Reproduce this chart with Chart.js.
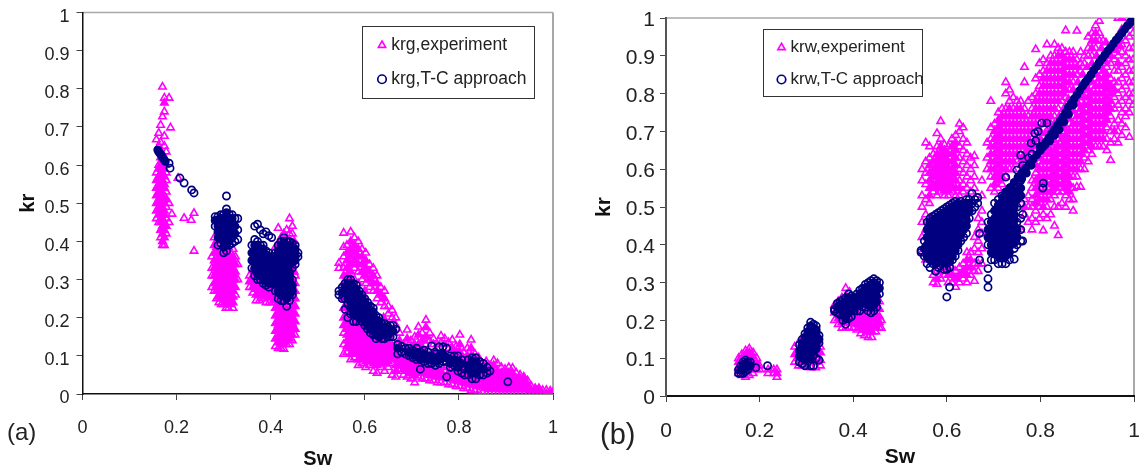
<!DOCTYPE html>
<html>
<head>
<meta charset="utf-8">
<title>krg and krw against Sw</title>
<script src="https://cdn.jsdelivr.net/npm/chart.js@4"></script>
<style>
    html, body { margin: 0; padding: 0; background: #fff; }
    body { position: relative; width: 1143px; height: 472px; overflow: hidden; font-family: "Liberation Sans", Arial, sans-serif; }
    canvas { position: absolute; top: 0; }
    .tag { position: absolute; color: #222; line-height: 1; }
</style>
</head>
<body>
<canvas id="panelA" style="left:0"></canvas>
<canvas id="panelB" style="left:571px"></canvas>
<div class="tag" style="left:7px;top:420px;font-size:24px">(a)</div>
<div class="tag" style="left:600px;top:420px;font-size:29px">(b)</div>
<script>
// Values. Inside the solid clusters single markers
// can't be told apart, so those lists only follow the visible outline of each cluster.
// Each row is [Sw, [kr, kr, ...]].
const swTicks = ['0', '0.2', '0.4', '0.6', '0.8', '1'];
const krTicks = ['0', '0.1', '0.2', '0.3', '0.4', '0.5', '0.6', '0.7', '0.8', '0.9', '1'];

const krgExperiment = [
    [.157,[.46,.48,.50,.52,.54,.56,.58,.667]], [.162,[.45,.47,.49,.51,.53,.55,.57,.59,.60,.65,.684]],
    [.166,[.41,.43,.45,.46,.48,.50,.52,.53,.55,.57,.58,.60,.62,.66,.705]],
    [.17,[.39,.40,.42,.44,.46,.47,.49,.51,.52,.54,.56,.58,.59,.61,.63,.727,.805]],
    [.174,[.39,.41,.43,.45,.47,.48,.50,.52,.54,.55,.57,.59,.60,.65,.676,.74,.763,.776]],
    [.178,[.42,.44,.46,.49,.51,.53,.56,.58,.635]], [.184,[.45,.50,.776]], [.187,[.698]],
    [.19,[.472]], [.203,[.566]], [.216,[.461]], [.231,[.456]], [.237,[.375,.474]],
    [.275,[.28,.31,.33,.36]], [.28,[.27,.29,.31,.33,.35,.37,.39,.41]],
    [.285,[.25,.27,.285,.30,.32,.335,.35,.37,.385,.40]], [.29,[.24,.255,.27,.285,.30,.315,.33,.345,.36,.375,.39]],
    [.295,[.235,.25,.265,.28,.295,.31,.325,.34,.355,.37,.385]], [.30,[.235,.25,.262,.275,.29,.305,.32,.335,.35,.365,.38]],
    [.305,[.225,.24,.255,.27,.285,.30,.315,.33,.345,.36,.375]], [.31,[.225,.24,.25,.265,.28,.295,.31,.325,.34,.355,.37,.385]],
    [.315,[.235,.25,.265,.28,.295,.31,.325,.34,.355,.37]], [.32,[.225,.24,.255,.27,.285,.30,.315,.33,.345,.36,.38]],
    [.325,[.26,.28,.30,.32,.34,.36]], [.33,[.30,.34]],
    [.355,[.28,.295,.31]], [.362,[.265,.28,.295,.31,.325]], [.369,[.245,.26,.275,.29,.305,.32]],
    [.376,[.245,.26,.275,.29,.305]], [.383,[.25,.265,.28,.295]], [.39,[.24,.255,.27,.285]],
    [.397,[.24,.255,.27,.285,.30]], [.404,[.24,.255,.27,.285,.30,.32,.34]],
    [.41,[.125,.145,.165,.185,.205,.225,.245,.265,.285,.305,.325,.345,.365,.385]],
    [.416,[.12,.135,.15,.165,.18,.195,.21,.225,.24,.255,.27,.29,.31,.33,.35,.37,.39,.435]],
    [.422,[.12,.13,.145,.16,.175,.19,.205,.22,.235,.25,.27,.30,.38,.41]],
    [.428,[.118,.135,.15,.165,.18,.195,.21,.225,.24,.39,.42]],
    [.434,[.13,.145,.16,.175,.19,.205,.22,.235,.41,.43]],
    [.44,[.13,.145,.16,.175,.19,.205,.22,.235,.42,.46]],
    [.446,[.14,.155,.17,.185,.20,.215,.23,.25,.265,.28,.30,.32,.34,.42,.44]],
    [.452,[.155,.17,.19,.21,.23,.25,.27,.29,.31]],
    [.555,[.105,.13,.16,.18,.20,.225,.25,.27,.29,.31,.33,.36,.385,.422]], [.545,[.33,.343]],
    [.562,[.11,.125,.14,.155,.17,.19,.21,.23,.25,.27,.29,.31,.33,.35,.37,.39]],
    [.57,[.09,.105,.12,.135,.15,.165,.18,.20,.22,.24,.26,.28,.30,.32,.34,.36,.38,.40,.425]],
    [.578,[.095,.11,.125,.14,.155,.17,.185,.20,.22,.24,.27,.30,.33,.35,.37,.39,.41]],
    [.586,[.075,.09,.105,.12,.135,.15,.165,.18,.195,.21,.25,.29,.32,.34,.36,.38,.40]],
    [.594,[.08,.095,.11,.125,.14,.155,.17,.185,.20,.30,.32,.34,.36,.38]],
    [.602,[.07,.085,.10,.115,.13,.145,.16,.175,.19,.29,.31,.33,.35,.37]],
    [.61,[.075,.09,.105,.12,.135,.15,.165,.28,.30,.32,.34]], [.618,[.06,.08,.095,.11,.125,.14,.155,.27,.29,.31,.33]],
    [.626,[.055,.075,.09,.105,.12,.135,.15,.25,.27,.29,.31]], [.634,[.07,.085,.10,.115,.13,.145,.24,.26,.28]],
    [.642,[.06,.08,.095,.11,.125,.14,.23,.25,.27]], [.65,[.07,.085,.10,.115,.13,.145,.21,.23]],
    [.658,[.05,.08,.095,.11,.125,.14,.20,.22]], [.666,[.045,.06,.075,.09,.105,.12,.18,.20]],
    [.674,[.06,.075,.09,.105,.12,.14,.16]], [.682,[.05,.065,.08,.095,.11,.13]],
    [.69,[.045,.06,.075,.09,.105,.12,.145,.168]], [.698,[.04,.055,.07,.085,.10,.115,.14]],
    [.706,[.03,.05,.065,.08,.095,.11,.13,.15]], [.714,[.045,.06,.075,.09,.105,.13,.155,.176]],
    [.722,[.04,.055,.07,.085,.10,.12,.14,.16]], [.73,[.04,.055,.07,.085,.10,.13,.15,.175,.194]],
    [.738,[.035,.05,.065,.08,.10,.14,.16]], [.746,[.035,.05,.065,.08,.13,.145]], [.754,[.03,.045,.06,.075,.13]],
    [.762,[.03,.045,.06,.075,.135,.152]], [.77,[.03,.045,.06,.13,.145]], [.778,[.025,.04,.055,.07,.12,.135]],
    [.786,[.025,.04,.055,.07,.105,.12,.142]], [.794,[.02,.035,.05,.065,.09,.11,.125]],
    [.802,[.02,.035,.05,.065,.09,.11,.13,.155]], [.81,[.015,.03,.045,.06,.09,.11]], [.818,[.015,.03,.045,.06,.08,.10,.12]],
    [.826,[.01,.025,.04,.055,.08,.10,.12,.142]], [.834,[.01,.025,.04,.055,.07,.09,.105]],
    [.842,[.005,.02,.035,.05,.065,.08,.095]], [.85,[.005,.02,.035,.05,.065,.08]], [.858,[0,.015,.03,.045,.06,.075,.085]],
    [.866,[0,.015,.03,.045,.06,.075]], [.874,[0,.015,.03,.045,.06,.075,.088]], [.882,[0,.015,.03,.045,.06,.08]],
    [.89,[0,.012,.025,.04,.055,.07]], [.898,[0,.012,.025,.04,.055,.065]], [.906,[0,.012,.025,.04,.055,.07]],
    [.914,[0,.012,.025,.04,.055,.068]], [.922,[0,.012,.025,.04,.055]], [.93,[0,.012,.025,.04,.05]],
    [.938,[0,.012,.025,.04,.045]], [.946,[0,.012,.025,.035]], [.954,[0,.01,.02]], [.962,[0,.01,.015]],
    [.97,[0,.01,.015]], [.978,[0,.01]], [.986,[0,.01]], [.994,[0,.008]], [1,[0,.005]]
];

// experiment markers packed in behind the model clusters
const krgExperimentFill = [
    [.407,[.25,.27,.29,.31,.33,.35]], [.437,[.25,.27,.29,.31]], [.45,[.32,.36,.40]],
    [.60,[.21,.25,.27]], [.64,[.16,.18,.20]], [.70,[.125]], [.75,[.10,.115]], [.80,[.075]]
];

const krgModel = [
    [.184,[.605]], [.186,[.592]], [.207,[.566]], [.216,[.553]], [.232,[.535]], [.237,[.527]],
    [.282,[.44,.455,.465]], [.288,[.39,.41,.425,.44,.455,.465]], [.294,[.395,.41,.42,.43,.44,.45,.46,.47]],
    [.30,[.37,.385,.40,.41,.42,.43,.44,.45,.46,.47]], [.306,[.375,.39,.405,.415,.425,.435,.445,.455,.465,.475,.485,.519]],
    [.312,[.39,.40,.41,.42,.43,.44,.45,.46,.47]], [.318,[.395,.41,.42,.43,.44,.45,.46,.47]],
    [.324,[.40,.42,.44,.46]], [.33,[.405,.43,.46]],
    [.36,[.33,.35,.37,.39]], [.366,[.31,.33,.345,.36,.375,.39,.405,.44]], [.372,[.30,.315,.33,.34,.35,.36,.37,.38,.39,.40,.445]],
    [.378,[.30,.31,.32,.33,.34,.35,.36,.37,.38,.39,.43]], [.384,[.29,.30,.31,.32,.33,.34,.35,.36,.37,.38,.39,.42]],
    [.39,[.285,.295,.305,.315,.325,.335,.345,.355,.365,.375,.425]], [.396,[.28,.29,.30,.31,.32,.33,.34,.35,.36,.37,.415]],
    [.402,[.29,.30,.315,.33,.345,.36,.41]], [.407,[.30,.32,.34,.36]], [.41,[.27,.29,.31,.33,.35,.37]],
    [.416,[.25,.27,.285,.30,.315,.33,.345,.36,.375,.39]], [.422,[.245,.26,.275,.29,.30,.31,.32,.33,.34,.35,.36,.37,.38,.39,.40]],
    [.428,[.245,.26,.27,.28,.29,.30,.31,.32,.33,.34,.35,.36,.37,.38,.39,.40,.41]],
    [.434,[.23,.25,.26,.27,.28,.29,.30,.31,.32,.33,.34,.35,.36,.37,.38,.39,.40]],
    [.44,[.245,.26,.27,.28,.29,.30,.31,.32,.34,.35,.36,.37,.38,.39,.40]],
    [.446,[.26,.27,.285,.30,.33,.345,.355,.365,.375,.385,.395]], [.452,[.34,.35,.36,.37,.38,.39]], [.458,[.36,.37]],
    [.545,[.26,.27]], [.552,[.25,.265,.28]], [.558,[.222,.25,.265,.28,.29]], [.564,[.20,.235,.25,.26,.27,.28,.29,.30]],
    [.57,[.21,.225,.24,.25,.26,.27,.28,.29,.30]], [.576,[.19,.21,.22,.23,.24,.25,.26,.27,.28,.29]],
    [.582,[.19,.205,.215,.225,.235,.245,.255,.265,.275,.285]], [.588,[.20,.21,.22,.23,.24,.25,.26,.27]],
    [.594,[.19,.20,.21,.22,.23,.24,.25,.26]], [.60,[.18,.19,.20,.21,.22,.23,.24,.25]],
    [.606,[.17,.18,.19,.20,.21,.22,.23,.24]], [.612,[.16,.17,.18,.19,.20,.21,.22,.23]],
    [.618,[.155,.165,.175,.185,.195,.205,.215,.225]], [.624,[.145,.155,.165,.175,.185,.195,.205]],
    [.63,[.15,.16,.17,.18,.19,.20]], [.636,[.145,.155,.165,.175,.185]], [.642,[.145,.155,.165,.175,.185]],
    [.648,[.15,.16,.17,.18]], [.654,[.15,.16,.17,.18]], [.66,[.15,.165,.18]], [.666,[.17]],
    [.67,[.105,.12,.13]], [.678,[.11,.125]], [.686,[.105,.12]], [.694,[.10,.11,.12]], [.702,[.095,.105,.115]],
    [.71,[.09,.10,.11,.12]], [.718,[.065,.09,.10,.11]], [.726,[.085,.095,.105,.115]], [.734,[.08,.09,.10,.11]],
    [.742,[.08,.09,.10,.126]], [.75,[.075,.085,.095,.105]], [.758,[.08,.09,.10,.124]], [.766,[.085,.095,.105,.124]],
    [.774,[.045,.085,.095,.12]], [.782,[.07,.08,.09,.10]], [.79,[.075,.09,.10]], [.798,[.06,.07,.085,.10]],
    [.806,[.055,.08,.09]], [.812,[.05,.065]], [.82,[.05,.065,.075,.09]], [.828,[.04,.055,.065,.075,.085,.095]],
    [.836,[.04,.055,.07,.085,.095]], [.844,[.05,.07,.085]], [.852,[.05,.065,.08]], [.86,[.055,.07]], [.866,[.06]], [.904,[.032]]
];

// the tight run of model points at low Sw
const krgModelLine = [
    [.16,[.64]], [.162,[.635]], [.165,[.63]], [.168,[.625]], [.17,[.62]], [.173,[.615]], [.176,[.61]]
];

const krwExperiment = [
    [.155,[.06,.075,.09,.10]], [.162,[.055,.07,.085,.10,.11]], [.17,[.05,.065,.08,.095,.11,.12]],
    [.178,[.055,.07,.085,.10,.115,.125]], [.186,[.06,.075,.09,.105,.115]], [.194,[.07,.085,.10]], [.20,[.07,.08]],
    [.218,[.06,.07]], [.23,[.06,.07]], [.237,[.05,.06,.07]],
    [.275,[.09,.11,.13]], [.283,[.08,.10,.12,.14]], [.291,[.08,.095,.11,.13,.15]], [.30,[.08,.095,.11,.13,.15]],
    [.31,[.075,.09,.11,.13]], [.32,[.075,.09,.11,.13]], [.33,[.08,.095,.115,.13]],
    [.36,[.20,.22,.24]], [.368,[.19,.205,.22,.24,.25]], [.376,[.18,.195,.21,.225,.24,.26]],
    [.384,[.18,.195,.21,.225,.24,.26,.285]], [.392,[.18,.195,.21,.225,.24,.26,.275]], [.40,[.18,.195,.21,.225,.24]],
    [.408,[.175,.19,.205,.22,.235]], [.416,[.165,.18,.195,.21,.225]], [.424,[.16,.175,.19,.205,.22]],
    [.432,[.155,.17,.185,.20,.215]], [.44,[.155,.17,.185,.20,.215]], [.448,[.17,.185,.20,.215,.23]],
    [.456,[.18,.195,.21,.23,.25]], [.46,[.18,.20]],
    [.547,[.38,.42,.46,.50,.53,.57,.60]], [.555,[.36,.40,.44,.48,.52,.56,.59,.62,.67]],
    [.563,[.39,.43,.47,.51,.53,.55,.57,.59,.61,.63,.66]], [.571,[.30,.32,.36,.54,.56,.58,.60,.62,.64]],
    [.579,[.296,.31,.33,.53,.55,.565,.58,.595,.61,.625,.64,.66,.695]],
    [.587,[.31,.33,.54,.555,.57,.585,.60,.615,.63,.645,.66,.68,.727]],
    [.595,[.32,.34,.53,.545,.56,.575,.59,.605,.62,.635,.65,.665]], [.603,[.30,.32,.34,.53,.545,.56,.575,.59,.605,.62,.64,.66]],
    [.611,[.30,.32,.34,.54,.555,.57,.585,.60,.62,.64,.66,.68]], [.619,[.288,.31,.33,.53,.55,.57,.59,.61,.63,.65,.67,.69]],
    [.627,[.30,.32,.34,.53,.55,.57,.60,.63,.66,.70,.72]], [.635,[.31,.33,.35,.54,.56,.59,.62,.65,.68,.71]],
    [.643,[.30,.32,.34,.36,.38,.55,.58,.61,.64,.67]], [.651,[.32,.34,.36,.38,.54,.57,.60,.63]],
    [.659,[.304,.33,.35,.39,.42,.55,.58,.61,.635]], [.667,[.33,.35,.38,.41,.44,.47]], [.675,[.35,.39,.43,.46,.49,.53,.57]],
    [.686,[.60,.63,.67]], [.694,[.55,.58,.60,.62,.64,.66,.68,.71,.78]], [.702,[.54,.56,.58,.60,.62,.64,.66,.68,.70,.72]],
    [.71,[.55,.57,.59,.61,.63,.65,.67,.69,.71,.73,.75]], [.718,[.56,.58,.60,.62,.64,.66,.68,.70,.72,.74,.76]],
    [.726,[.58,.60,.62,.64,.66,.68,.70,.72,.74,.76,.80,.83]], [.734,[.60,.62,.64,.66,.68,.70,.72,.74,.76,.78,.81]],
    [.742,[.60,.62,.64,.66,.68,.70,.72,.74,.76,.79]], [.75,[.62,.64,.66,.68,.70,.72,.74,.76,.78]],
    [.758,[.44,.64,.66,.68,.70,.72,.74,.76,.78]], [.766,[.48,.50,.52,.64,.66,.68,.70,.72,.74,.76,.83,.87]],
    [.774,[.46,.50,.53,.66,.68,.70,.72,.74,.78]], [.782,[.44,.47,.50,.52,.55,.57,.68,.70,.72,.74,.76,.79]],
    [.79,[.46,.49,.51,.53,.55,.57,.59,.70,.72,.74,.76,.78,.80,.84,.917]],
    [.798,[.47,.50,.52,.54,.56,.58,.60,.62,.72,.74,.76,.78,.80,.82,.85,.88]],
    [.806,[.438,.48,.50,.52,.54,.56,.58,.60,.62,.64,.72,.74,.76,.78,.80,.82,.84,.86,.89]],
    [.814,[.47,.50,.52,.54,.56,.58,.60,.62,.64,.70,.72,.74,.76,.78,.80,.82,.84,.86,.88,.93]],
    [.822,[.48,.52,.54,.56,.58,.60,.62,.64,.66,.72,.74,.76,.78,.80,.82,.84,.86,.88,.90]],
    [.83,[.45,.50,.53,.55,.57,.59,.61,.63,.65,.67,.74,.76,.78,.80,.82,.84,.86,.88,.90,.93]],
    [.838,[.425,.50,.54,.56,.58,.60,.62,.64,.66,.68,.76,.78,.80,.82,.84,.86,.88,.90,.92]],
    [.846,[.51,.54,.56,.58,.60,.62,.64,.66,.68,.70,.78,.80,.82,.84,.86,.88,.90,.92]],
    [.854,[.50,.53,.55,.57,.59,.61,.63,.65,.67,.69,.71,.79,.81,.83,.85,.87,.89,.91,.967]],
    [.862,[.52,.54,.56,.58,.60,.62,.64,.66,.68,.70,.72,.81,.83,.85,.87,.89,.91]],
    [.87,[.49,.52,.55,.58,.60,.62,.64,.66,.68,.70,.72,.74,.83,.85,.87,.89,.91]],
    [.878,[.553,.58,.60,.62,.64,.66,.68,.70,.72,.74,.76,.85,.87,.89,.966]],
    [.886,[.553,.60,.62,.64,.66,.68,.70,.72,.74,.76,.78,.86,.88,.91]], [.894,[.60,.63,.65,.67,.69,.71,.73,.75,.77,.79,.88,.90]],
    [.902,[.62,.65,.67,.69,.71,.73,.75,.77,.79,.81,.90,.92,.95]], [.91,[.64,.66,.68,.70,.72,.74,.76,.78,.80,.82,.90,.92,.94,.96]],
    [.918,[.66,.68,.70,.72,.74,.76,.78,.80,.82,.84,.92,.94,.96,.98]], [.926,[.66,.68,.70,.72,.74,.76,.78,.80,.82,.84,.86,.94,.96,.992]],
    [.934,[.66,.68,.70,.72,.74,.76,.78,.80,.82,.84,.86,.88,.94]], [.942,[.65,.68,.71,.73,.75,.77,.79,.81,.83,.85,.87]],
    [.95,[.624,.67,.70,.74,.76,.78,.80,.82,.84,.88,.90]], [.958,[.68,.70,.72,.76,.79,.81,.83,.86,.89,.92]],
    [.966,[.67,.70,.73,.77,.80,.83,.86,.88,.90,.94,1]], [.974,[.69,.72,.75,.78,.81,.84,.87,.91,.93,.97,1]],
    [.982,[.71,.74,.76,.79,.82,.85,.88,.90,.94,1]], [.99,[.685,.75,.78,.80,.83,.86,.89,.92,.95,.98]],
    [.998,[.77,.80,.83,.86,.89,.92,.96]]
];

// experiment markers packed in behind the thick model run
const krwExperimentFill = [
    [.76,[.61,.625]], [.77,[.63,.645]], [.78,[.65,.665]], [.79,[.61,.63,.66,.68]], [.80,[.63,.68,.70]], [.81,[.645,.695]],
    [.82,[.655,.70]], [.83,[.675,.72]], [.84,[.69,.74]], [.85,[.71,.76]], [.86,[.735,.785]], [.87,[.755,.81]],
    [.88,[.775,.83]], [.89,[.79,.85]], [.90,[.81,.87]], [.91,[.83,.88]], [.92,[.85,.90]], [.93,[.87,.92]],
    [.94,[.885,.935]], [.95,[.90]], [.96,[.915]], [.97,[.925]]
];

const krwModel = [
    [.155,[.06,.07]], [.16,[.06,.07,.08]], [.165,[.06,.07,.08,.09]], [.17,[.065,.075,.085,.095]], [.175,[.07,.08,.09]],
    [.18,[.08,.09]], [.192,[.075]], [.217,[.08]],
    [.285,[.09,.105,.12,.135]], [.291,[.085,.10,.11,.12,.13,.14,.15]], [.297,[.08,.095,.105,.115,.125,.135,.145,.155,.165]],
    [.303,[.10,.11,.12,.13,.14,.15,.16,.17,.18]], [.309,[.08,.10,.115,.125,.135,.145,.155,.165,.175,.185,.195]],
    [.315,[.08,.11,.12,.13,.14,.15,.16,.17,.18,.19]], [.321,[.10,.125,.135,.145,.155,.165,.175,.185]], [.327,[.095,.14,.15,.16]],
    [.36,[.225,.23]], [.366,[.22,.235,.245]], [.372,[.215,.23,.24,.25]], [.378,[.20,.215,.225,.235,.245,.255]],
    [.384,[.19,.205,.22,.23,.24,.25,.26]], [.39,[.205,.22,.23,.24,.25,.26,.27]], [.396,[.21,.225,.235,.245,.255,.265]],
    [.402,[.225,.235,.245,.255,.26]], [.408,[.225,.24,.25,.26,.27]], [.414,[.225,.24,.25,.26,.27,.28]],
    [.42,[.235,.245,.255,.265,.275,.285]], [.426,[.235,.245,.255,.265,.275,.285,.295]], [.432,[.225,.24,.25,.26,.27,.28,.29,.30]],
    [.438,[.22,.235,.245,.255,.265,.275,.285,.295,.305]], [.444,[.225,.24,.25,.26,.27,.28,.29,.30,.31]],
    [.45,[.235,.25,.265,.28,.295,.305]], [.456,[.27,.285,.30]],
    [.545,[.38,.385]], [.552,[.37,.39,.41]], [.558,[.35,.37,.385,.40,.42,.44,.46]], [.564,[.34,.36,.375,.39,.40,.41,.42,.43,.44,.45,.46,.47]],
    [.57,[.35,.365,.375,.385,.395,.405,.415,.425,.435,.445,.455,.465,.475]], [.576,[.33,.35,.36,.37,.38,.39,.40,.41,.42,.43,.44,.45,.46,.47,.48]],
    [.582,[.34,.355,.365,.375,.385,.395,.405,.415,.425,.435,.445,.455,.465,.475,.485]],
    [.588,[.35,.36,.37,.38,.39,.40,.41,.42,.43,.44,.45,.46,.47,.48,.49]],
    [.594,[.335,.355,.365,.375,.385,.395,.405,.415,.425,.435,.445,.455,.465,.475,.485,.495]],
    [.60,[.262,.335,.35,.36,.37,.38,.39,.40,.41,.42,.43,.44,.45,.46,.47,.48,.49,.50]],
    [.606,[.288,.34,.355,.365,.375,.385,.395,.405,.415,.425,.435,.445,.455,.465,.475,.485,.495,.505]],
    [.612,[.36,.37,.38,.39,.40,.41,.42,.43,.44,.45,.46,.47,.48,.49,.50,.51]],
    [.618,[.37,.385,.395,.405,.415,.425,.435,.445,.455,.465,.475,.485,.495,.505,.515]],
    [.624,[.385,.40,.41,.42,.43,.44,.45,.46,.47,.48,.49,.50,.51]], [.63,[.41,.425,.435,.445,.455,.465,.475,.485,.495,.505,.515]],
    [.636,[.42,.44,.45,.46,.47,.48,.49,.50,.51]], [.642,[.43,.45,.465,.48,.495,.51,.52]], [.648,[.47,.49,.51,.52]],
    [.654,[.49,.51,.536]], [.66,[.50,.52]], [.666,[.51,.525]], [.67,[.36,.43]],
    [.688,[.288,.31,.337,.40,.42,.44,.46]], [.695,[.36,.38,.40,.42,.44,.46,.48]], [.702,[.36,.38,.39,.41,.43,.45,.47,.49,.51]],
    [.71,[.35,.37,.385,.40,.415,.43,.445,.46,.475,.49,.505,.52]], [.718,[.35,.365,.38,.395,.41,.425,.44,.455,.47,.485,.50,.515,.53]],
    [.726,[.35,.37,.385,.40,.415,.43,.445,.46,.475,.49,.505,.52,.54,.579]], [.734,[.36,.38,.395,.41,.425,.44,.455,.47,.485,.50,.515,.53,.55]],
    [.744,[.362,.39,.405,.42,.435,.45,.465,.48,.50,.52,.54,.56]], [.75,[.40,.42,.44,.46,.50,.52,.54,.56,.598]],
    [.758,[.41,.44,.47,.51,.53,.55,.57,.637]], [.762,[.41,.48,.61]], [.775,[.63]],
    [.78,[.669]], [.782,[.64]], [.788,[.695]], [.79,[.675]], [.795,[.70]], [.803,[.722]], [.805,[.55]], [.806,[.563]], [.814,[.722]]
];

// the thick diagonal run of model points
const krwModelLine = [
    [.72,[.526]], [.728,[.54]], [.736,[.552]], [.744,[.565]], [.752,[.578]], [.76,[.575,.59]], [.768,[.602]], [.77,[.59]], [.776,[.614]],
    [.78,[.61]], [.784,[.626]], [.792,[.638]], [.80,[.65,.66]], [.806,[.66]], [.81,[.665]], [.812,[.672]], [.818,[.683]], [.82,[.675]],
    [.824,[.694]], [.83,[.69,.705]], [.836,[.716]], [.84,[.705]], [.842,[.727]], [.848,[.738]], [.85,[.725]], [.854,[.75]],
    [.86,[.745,.765]], [.866,[.775]], [.87,[.77]], [.872,[.786]], [.878,[.797]], [.884,[.808]], [.89,[.82]], [.896,[.83]], [.902,[.84]],
    [.908,[.85]], [.914,[.862]], [.92,[.872]], [.926,[.883]], [.932,[.893]], [.938,[.903]], [.944,[.913]], [.95,[.922]], [.956,[.932]],
    [.962,[.942]], [.968,[.951]], [.974,[.96]], [.98,[.97]], [.986,[.98]], [.992,[.988]], [.996,[.995]]
];

// a marker with close neighbours above and below sits inside a solid cluster
const closeGap = 0.026;
const toPoints = rows => rows.flatMap(([x, ys]) => ys.map((y, i) => ({
    x, y,
    solid: i > 0 && i < ys.length - 1 && y - ys[i - 1] <= closeGap && ys[i + 1] - y <= closeGap
})));
const toSolidPoints = rows => rows.flatMap(([x, ys]) => ys.map(y => ({ x, y, solid: true })));

const magenta = '#ff00ff';
const navy = '#000080';
const fillIfSolid = color => ctx => (ctx.raw && ctx.raw.solid ? color : 'transparent');

// top and right edges of the plot are grey, the axes themselves are dark
const frameAndLegend = {
    id: 'frameAndLegend',
    afterLayout(chart) {
        const box = chart.options.plugins.frameAndLegend;
        chart.legend.left = box.x + 3;
        chart.legend.top = box.y + box.legendDrop;
    },
    beforeDraw(chart) {
        const { ctx, chartArea: a } = chart;
        const box = chart.options.plugins.frameAndLegend;
        ctx.save();
        ctx.strokeStyle = '#a8a8a8';
        ctx.lineWidth = 1.5;
        ctx.beginPath();
        ctx.moveTo(a.left, a.top);
        ctx.lineTo(a.right, a.top);
        ctx.stroke();
        ctx.lineWidth = 2;
        ctx.beginPath();
        ctx.moveTo(a.right, a.top);
        ctx.lineTo(a.right, a.bottom);
        ctx.stroke();
        ctx.strokeStyle = '#333';
        ctx.lineWidth = 1;
        ctx.strokeRect(box.x + 0.5, box.y + 0.5, box.w, box.h);
        ctx.restore();
    }
};

function makePanel(id, p) {
    const canvas = document.getElementById(id);
    canvas.width = p.width;
    canvas.height = 472;
    canvas.style.width = p.width + 'px';
    canvas.style.height = '472px';
    return new Chart(canvas.getContext('2d'), {
        type: 'scatter',
        plugins: [frameAndLegend],
        data: {
            datasets: [{
                // first dataset is painted on top
                label: p.names[1],
                data: toPoints(p.model).concat(toSolidPoints(p.modelLine)),
                pointStyle: 'circle',
                pointRadius: 3.6,
                pointBorderWidth: 1.7,
                pointBorderColor: navy,
                borderColor: navy,
                pointBackgroundColor: fillIfSolid(navy),
                backgroundColor: 'transparent'
            }, {
                label: p.names[0],
                data: toPoints(p.experiment).concat(toSolidPoints(p.experimentFill)),
                pointStyle: 'triangle',
                pointRadius: 4.3,
                pointBorderWidth: 1.6,
                pointBorderColor: magenta,
                borderColor: magenta,
                pointBackgroundColor: fillIfSolid(magenta),
                backgroundColor: 'transparent'
            }]
        },
        options: {
            responsive: false,
            animation: false,
            events: [],
            layout: { padding: { top: p.top, right: p.right } },
            plugins: {
                tooltip: { enabled: false },
                frameAndLegend: p.legendBox,
                legend: {
                    position: 'chartArea',
                    align: 'start',
                    labels: {
                        usePointStyle: true,
                        boxWidth: 1,
                        boxHeight: 6,
                        padding: p.legendGap,
                        color: '#222',
                        font: { family: '"Liberation Sans"', size: p.legendFont },
                        sort: (a, b) => b.datasetIndex - a.datasetIndex
                    }
                }
            },
            scales: {
                x: {
                    type: 'linear', min: 0, max: 1,
                    afterFit: s => { s.height = p.xHeight; s.paddingLeft = 0; s.paddingRight = 0; },
                    border: { color: '#111', width: p.axisWidth },
                    grid: { drawOnChartArea: false, color: '#444', tickLength: 6 },
                    ticks: {
                        stepSize: 0.2, maxRotation: 0, autoSkip: false, padding: p.xPad, color: '#222',
                        font: { family: '"Liberation Sans"', size: p.tickFont },
                        callback: (v, i) => swTicks[i]
                    },
                    title: {
                        display: true, text: 'Sw', color: '#111', padding: { top: 0, bottom: p.swBottom },
                        font: { family: '"Liberation Sans"', size: p.titleFont, weight: 'bold' }
                    }
                },
                y: {
                    type: 'linear', min: 0, max: 1,
                    afterFit: s => { s.width = p.yWidth; s.paddingTop = 0; s.paddingBottom = 0; },
                    border: { color: p.yAxisColor, width: p.axisWidth },
                    grid: { drawOnChartArea: false, color: '#444', tickLength: 6 },
                    ticks: {
                        stepSize: 0.1, autoSkip: false, padding: p.yPad, color: '#222',
                        // the empty first line nudges the labels slightly below their ticks
                        font: { family: '"Liberation Sans"', size: p.tickFont, lineHeight: p.yLabelDrop },
                        callback: (v, i) => ['', krTicks[i]]
                    },
                    title: {
                        display: true, text: 'kr', color: '#111', padding: { top: p.krLeft, bottom: 0 },
                        font: { family: '"Liberation Sans"', size: p.titleFont, weight: 'bold' }
                    }
                }
            }
        }
    });
}

makePanel('panelA', {
    width: 571, right: 18, top: 12.5, yWidth: 82.5, xHeight: 78,
    names: ['krg,experiment', 'krg,T-C approach'],
    experiment: krgExperiment, experimentFill: krgExperimentFill, model: krgModel, modelLine: krgModelLine,
    legendBox: { x: 362, y: 26, w: 172, h: 72, legendDrop: -6 },
    legendFont: 17.5, legendGap: 16.5, tickFont: 18, titleFont: 20, yLabelDrop: '9px',
    xPad: 17, yPad: 7, swBottom: 1, krLeft: 16, axisWidth: 1.5, yAxisColor: '#111'
});

makePanel('panelB', {
    width: 572, right: 9, top: 18, yWidth: 95, xHeight: 76,
    names: ['krw,experiment', 'krw,T-C approach'],
    experiment: krwExperiment, experimentFill: krwExperimentFill, model: krwModel, modelLine: krwModelLine,
    legendBox: { x: 192, y: 29, w: 159, h: 67, legendDrop: -5 },
    legendFont: 17, legendGap: 15, tickFont: 21, titleFont: 21, yLabelDrop: '5px',
    xPad: 17, yPad: 5, swBottom: 2, krLeft: 21, axisWidth: 2, yAxisColor: '#555'
});
</script>
</body>
</html>
